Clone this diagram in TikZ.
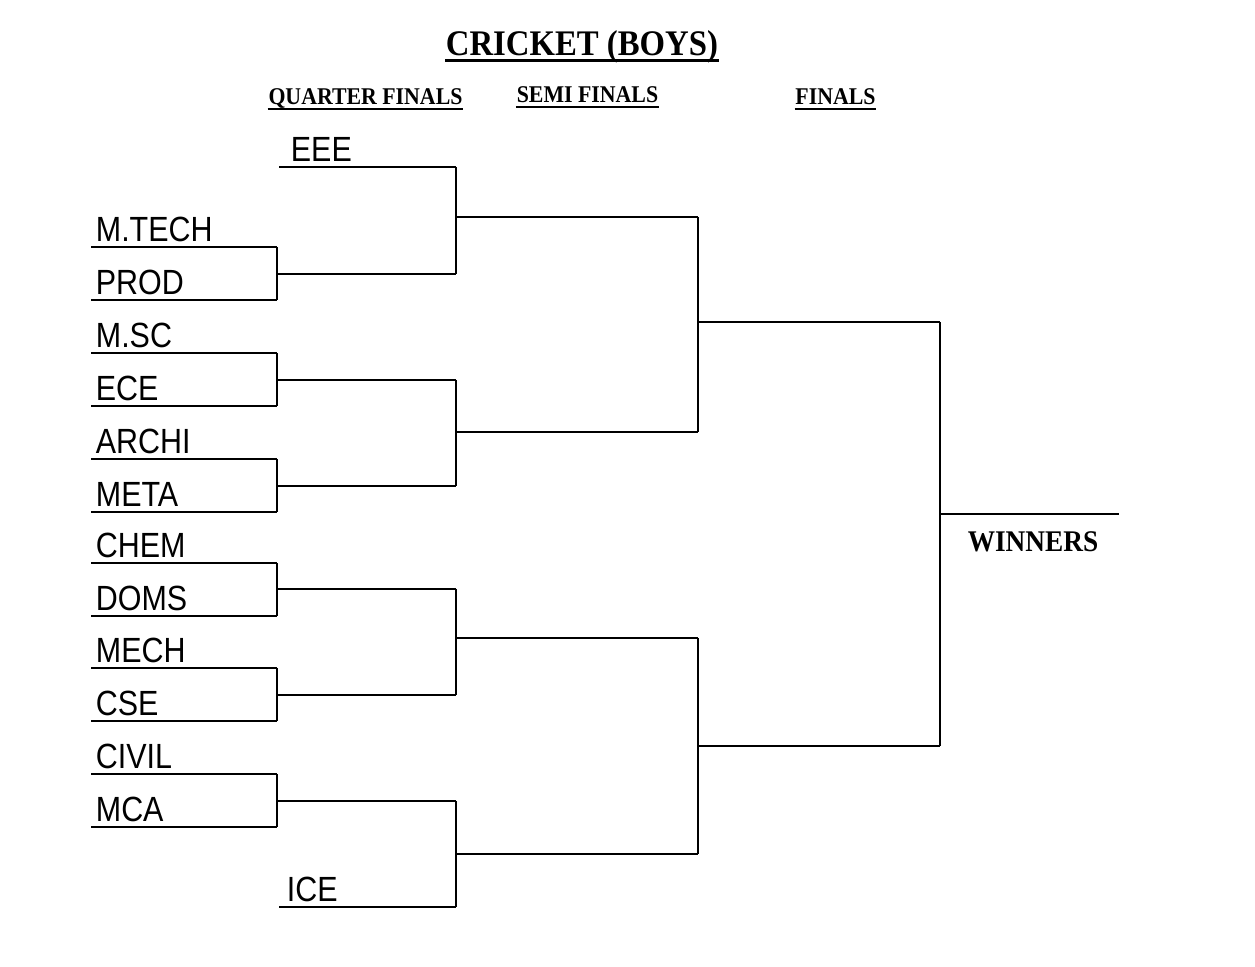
\documentclass[tikz,border=0pt]{standalone}
\usepackage{fontspec}
\setmainfont{Liberation Serif}[FakeStretch=0.91]
\newfontfamily\teamfont{Liberation Sans}[FakeStretch=0.87]
\usetikzlibrary{positioning}

\begin{document}
\begin{tikzpicture}[x=0.5pt,y=-0.5pt,line width=0.9pt,
  team/.style={font=\teamfont\fontsize{17.5}{18}\selectfont,anchor=base west,inner sep=0pt},
  head/.style={font=\bfseries\fontsize{12}{13}\selectfont,anchor=base,inner sep=0pt},
  uline/.style={line width=1.2pt}]
\useasboundingbox (0,0) rectangle (1255,967);

% headings
\node[head,font=\bfseries\fontsize{18}{19}\selectfont] (title) at (582,56) {CRICKET (BOYS)};
\node[head] (qf) at (365.5,105) {QUARTER FINALS};
\node[head] (sf) at (587.5,103) {SEMI FINALS};
\node[head] (fin) at (835.5,105) {FINALS};
\draw[uline,line width=1.5pt] ([yshift=-2.5pt]title.base west) -- ([yshift=-2.5pt]title.base east);
\foreach \h in {qf,sf,fin}
  \draw[uline] ([yshift=-2pt]\h.base west) -- ([yshift=-2pt]\h.base east);

% first round lines
\foreach \id/\txt/\y in {mtech/M.TECH/247, prod/PROD/300, msc/M.SC/353, ece/ECE/406,
    archi/ARCHI/459, meta/META/512, chem/CHEM/563, doms/DOMS/616,
    mech/MECH/668, cse/CSE/721, civil/CIVIL/774, mca/MCA/827}
{
  \coordinate (\id-a) at (91,\y);
  \coordinate (\id-b) at (277,\y);
  \node[team] (\id) at ([shift={(4,-5)}]\id-a) {\txt};
  \draw (\id-a) -- (\id-b);
}

% byes
\coordinate (eee-a) at (279,167);
\coordinate (eee-b) at (456,167);
\coordinate (ice-a) at (279,907);
\coordinate (ice-b) at (456,907);
\node[team] (eee) at ([shift={(11,-5)}]eee-a) {EEE};
\node[team] (ice) at ([shift={(7,-5)}]ice-a) {ICE};
\draw (eee-a) -- (eee-b);
\draw (ice-a) -- (ice-b);

% quarter finals
\coordinate (q1) at (456,274);
\coordinate (q2) at (456,380);
\coordinate (q3) at (456,486);
\coordinate (q4) at (456,589);
\coordinate (q5) at (456,695);
\coordinate (q6) at (456,801);
\foreach \t/\b/\q in {mtech/prod/q1, msc/ece/q2, archi/meta/q3,
    chem/doms/q4, mech/cse/q5, civil/mca/q6}
  \draw (\t-b) -- (\b-b) (\q -| \b-b) -- (\q);

% semi finals
\coordinate (s1) at (698,217);
\coordinate (s2) at (698,432);
\coordinate (s3) at (698,638);
\coordinate (s4) at (698,854);
\draw (eee-b) -- (q1) (s1 -| q1) -- (s1);
\draw (q2) -- (q3) (s2 -| q2) -- (s2);
\draw (q4) -- (q5) (s3 -| q4) -- (s3);
\draw (q6) -- (ice-b) (s4 -| q6) -- (s4);

% finals
\coordinate (f1) at (940,322);
\coordinate (f2) at (940,746);
\coordinate (win) at (1119,514);
\draw (s1) -- (s2) (f1 -| s1) -- (f1);
\draw (s3) -- (s4) (f2 -| s3) -- (f2);
\draw (f1) -- (f2) (win -| f1) -- (win);
\node[head,font=\bfseries\fontsize{15}{16}\selectfont] (winners) at (1033,552) {WINNERS};
\end{tikzpicture}
\end{document}
